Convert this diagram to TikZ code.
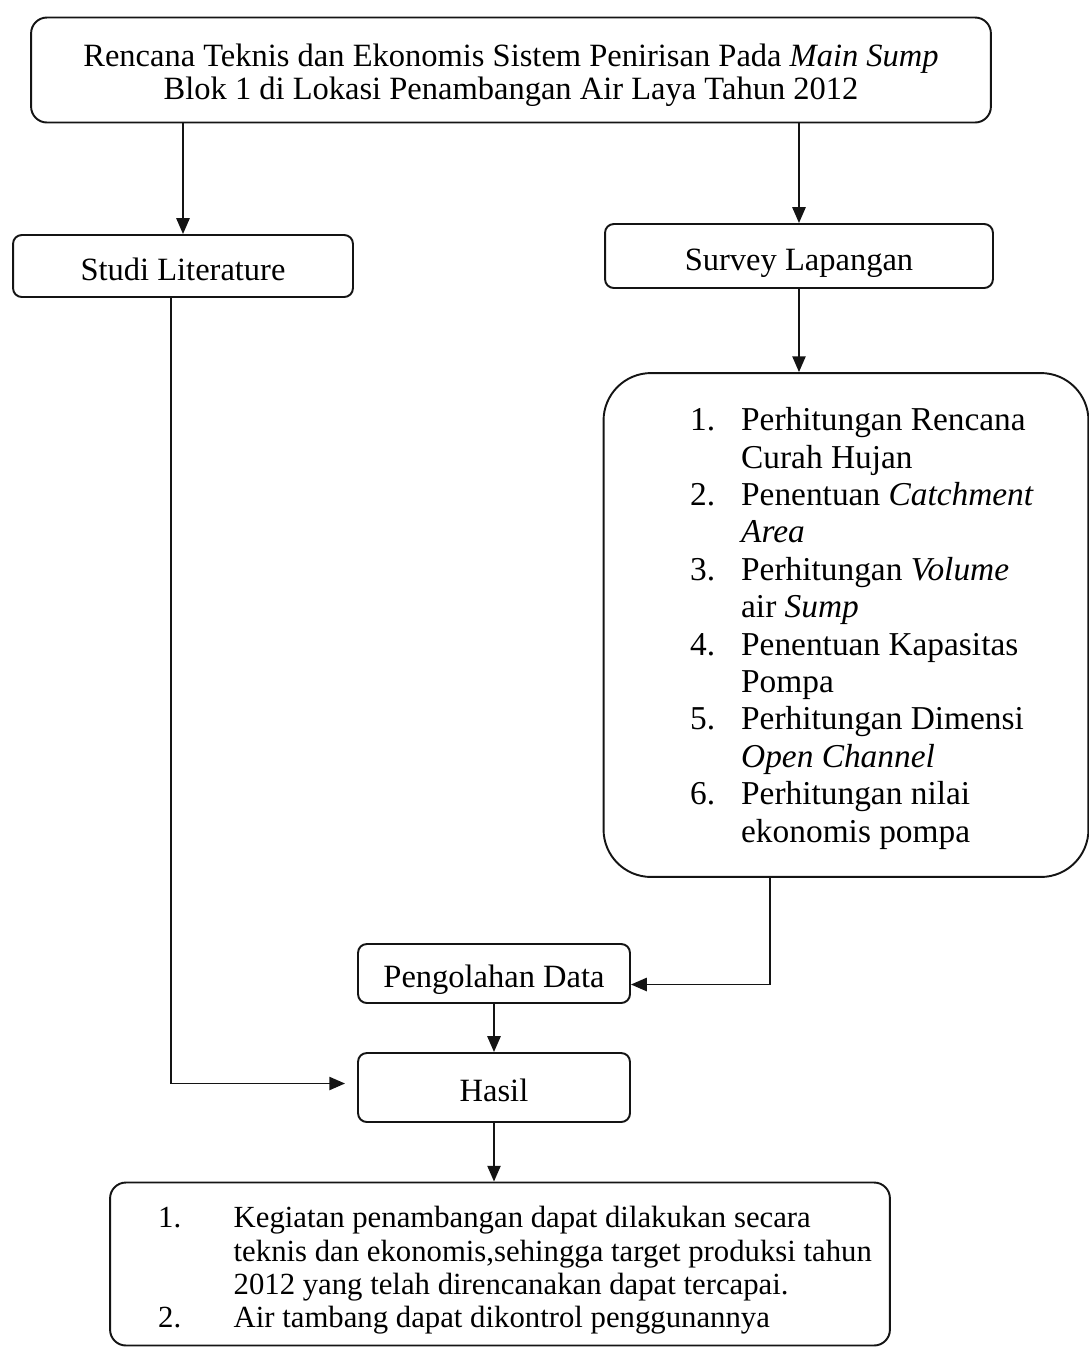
\documentclass[tikz,border=0pt]{standalone}
\usepackage{fontspec}
\setmainfont{Liberation Serif}
\usetikzlibrary{arrows.meta}

\begin{document}
\begin{tikzpicture}[x=0.02cm, y=-0.02cm]
      % 配色
      \definecolor{linecolor}{RGB}{20,20,20}

      % 样式
      \tikzstyle{box} = [rectangle, rounded corners=5pt, draw=linecolor, line width=1.1pt, text centered, font=\fontsize{18.5}{19}\selectfont]
      \tikzstyle{onebox} = [box, text height=16pt, text depth=0pt]
      \tikzstyle{bigbox} = [box, rounded corners=9pt]
      \tikzstyle{listbox} = [box, rounded corners=0.95cm, font=\fontsize{19}{21.3}\selectfont]
      \tikzstyle{arr} = [-{Triangle[length=9pt,width=7.5pt]}, line width=1.1pt, linecolor]

      \useasboundingbox (0,0) rectangle (1089,1347);

      % 第一层：judul
      \node[bigbox, align=center, minimum width=19.2cm, minimum height=2.1cm] (judul) at (511,70) {\rule{0pt}{18.5pt}Rencana Teknis dan Ekonomis Sistem Penirisan Pada \textit{Main Sump}\\Blok 1 di Lokasi Penambangan Air Laya Tahun 2012};

      % 第二层
      \node[onebox, minimum width=6.8cm, minimum height=1.24cm] (studi) at (183,266) {Studi Literature};
      \node[onebox, minimum width=7.76cm, minimum height=1.28cm] (survey) at (799,256) {Survey Lapangan};

      % 列表
      \node[listbox, minimum width=9.7cm, minimum height=10.08cm] (hitung) at (846,625) {%
        \begin{tabular}{@{\hspace{0.64cm}}r@{\hspace{0.52cm}}l@{}}
          \rule{0pt}{19.4pt}1. & Perhitungan Rencana\\
             & Curah Hujan\\
          2. & Penentuan \textit{Catchment}\\
             & \textit{Area}\\
          3. & Perhitungan \textit{Volume}\\
             & air \textit{Sump}\\
          4. & Penentuan Kapasitas\\
             & Pompa\\
          5. & Perhitungan Dimensi\\
             & \textit{Open Channel}\\
          6. & Perhitungan nilai\\
             & ekonomis pompa
        \end{tabular}};

      % 第三层
      \node[onebox, minimum width=5.44cm, minimum height=1.18cm] (olah) at (494,973.5) {Pengolahan Data};
      \node[onebox, minimum width=5.44cm, minimum height=1.38cm] (hasil) at (494,1087.5) {Hasil};

      % 结论
      \node[bigbox, minimum width=15.6cm, minimum height=3.26cm, font=\fontsize{17.5}{19}\selectfont] (simpul) at (500,1264) {%
        \begin{tabular}{@{\hspace{0.6cm}}r@{\hspace{1.05cm}}l@{}}
          \rule{0pt}{21.3pt}1. & Kegiatan penambangan dapat dilakukan secara\\
             & teknis dan ekonomis,sehingga target produksi tahun\\
             & 2012 yang telah direncanakan dapat tercapai.\\
          2. & Air tambang dapat dikontrol penggunannya
        \end{tabular}};

      % 连线
      \coordinate (kiri) at (171,0);
      \coordinate (turun) at (770,0);
      \draw[arr] (judul.south -| studi.north) -- (studi.north);
      \draw[arr] (judul.south -| survey.north) -- (survey.north);
      \draw[arr] (survey.south) -- (survey.south |- hitung.north);
      \draw[arr] (hitung.south -| turun) |- ([yshift=-0.22cm]olah.east);
      \draw[arr] (olah) -- (hasil);
      \draw[arr, shorten >=0.24cm] (studi.south -| kiri) |- ([yshift=0.08cm]hasil.west);
      \draw[arr] (hasil.south) -- (hasil.south |- simpul.north);
    \end{tikzpicture}
\end{document}
